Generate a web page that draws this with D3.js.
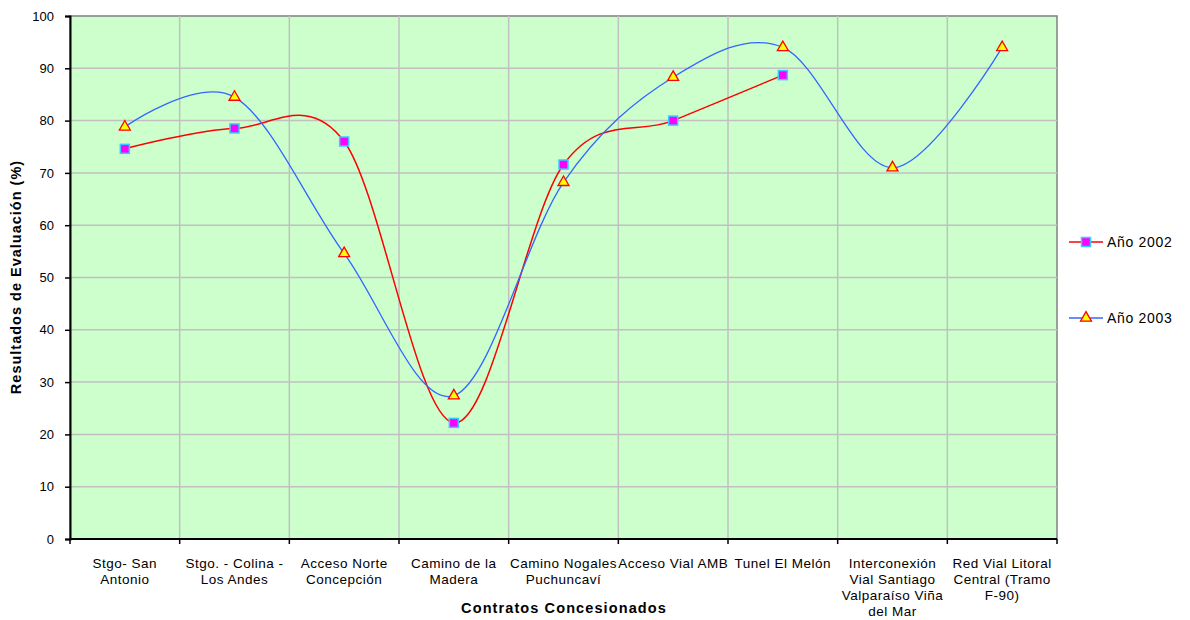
<!DOCTYPE html>
<html>
<head>
<meta charset="utf-8">
<script src="https://cdn.jsdelivr.net/npm/d3@7"></script>
<style>
  html, body { margin: 0; padding: 0; background: #fff; }
  svg { display: block; font-family: "Liberation Sans", Arial, sans-serif; }
</style>
</head>
<body>
<svg id="chart" width="1190" height="620"></svg>
<script>
// Contract names, one array of wrapped lines per category
const categories = [
  ["Stgo- San", "Antonio"],
  ["Stgo. - Colina -", "Los Andes"],
  ["Acceso Norte", "Concepción"],
  ["Camino de la", "Madera"],
  ["Camino Nogales", "Puchuncaví"],
  ["Acceso Vial AMB"],
  ["Tunel El Melón"],
  ["Interconexión", "Vial Santiago", "Valparaíso Viña", "del Mar"],
  ["Red Vial Litoral", "Central  (Tramo", "F-90)"]
];
const values2002 = [74.6, 78.5, 76.0, 22.2, 71.6, 80.0, 88.7, null, null];
const values2003 = [78.8, 84.5, 54.6, 27.4, 68.2, 88.3, 94.0, 71.0, 94.0];
const yTicks = [0, 10, 20, 30, 40, 50, 60, 70, 80, 90, 100];
const seriesNames = ["Año 2002", "Año 2003"];

const svg = d3.select("#chart");
const plotL = 70, plotR = 1057, plotT = 16, plotB = 539;

const x = d3.scaleBand().domain(d3.range(categories.length)).range([plotL, plotR]).paddingInner(0).paddingOuter(0);
const y = d3.scaleLinear().domain([0, 100]).range([plotB, plotT]);
const cx = i => x(i) + x.bandwidth() / 2;

// plot area
svg.append("rect").attr("x", plotL).attr("y", plotT).attr("width", plotR - plotL).attr("height", plotB - plotT)
  .attr("fill", "#ccffcc").attr("stroke", "#808080").attr("stroke-width", 1.5);

// horizontal grid
svg.append("g").selectAll("line").data(yTicks.filter(t => t > 0 && t < 100)).join("line")
  .attr("x1", plotL).attr("x2", plotR).attr("y1", d => y(d)).attr("y2", d => y(d))
  .attr("stroke", "#c0c0c0").attr("stroke-width", 1.5);
// vertical grid at category boundaries
svg.append("g").selectAll("line").data(d3.range(1, categories.length)).join("line")
  .attr("x1", d => x(d)).attr("x2", d => x(d)).attr("y1", plotT).attr("y2", plotB)
  .attr("stroke", "#c0c0c0").attr("stroke-width", 1.5);

// y axis
const yAxis = svg.append("g").attr("transform", `translate(${plotL},0)`)
  .call(d3.axisLeft(y).tickValues(yTicks).tickSize(5).tickPadding(11));
yAxis.select(".domain").attr("stroke", "#000").attr("stroke-width", 2);
yAxis.selectAll(".tick line").attr("stroke", "#000").attr("stroke-width", 1.5);
yAxis.selectAll(".tick text").attr("font-size", 13).attr("fill", "#000")
  .attr("font-family", "Liberation Sans, Arial, sans-serif");

// x axis: ticks at boundaries
const xAxisG = svg.append("g");
xAxisG.append("line").attr("x1", plotL).attr("x2", plotR).attr("y1", plotB).attr("y2", plotB)
  .attr("stroke", "#000").attr("stroke-width", 2);
xAxisG.selectAll("line.tk").data(d3.range(0, categories.length + 1)).join("line").attr("class", "tk")
  .attr("x1", d => d < categories.length ? x(d) : plotR).attr("x2", d => d < categories.length ? x(d) : plotR)
  .attr("y1", plotB).attr("y2", plotB + 5).attr("stroke", "#000").attr("stroke-width", 1.5);
const labels = xAxisG.selectAll("text.cat").data(categories).join("text").attr("class", "cat")
  .attr("text-anchor", "middle").attr("font-size", 13.5).attr("letter-spacing", 0.5).attr("fill", "#000");
labels.each(function(lines, i) {
  d3.select(this).selectAll("tspan").data(lines).join("tspan")
    .attr("x", cx(i)).attr("y", (d, j) => 568 + j * 16).text(d => d);
});

// axis titles
svg.append("text").attr("x", 564).attr("y", 613).attr("text-anchor", "middle")
  .attr("font-size", 14.5).attr("letter-spacing", 1.1).attr("font-weight", "bold").text("Contratos Concesionados");
svg.append("text").attr("transform", "translate(21,277) rotate(-90)").attr("text-anchor", "middle")
  .attr("font-size", 14.5).attr("letter-spacing", 1).attr("font-weight", "bold").text("Resultados de Evaluación (%)");

// smoothed lines
const lineGen = d3.line().defined(d => d != null).x((d, i) => cx(i)).y(d => y(d))
  .curve(d3.curveCardinal.tension(0));
svg.append("path").datum(values2002).attr("d", lineGen).attr("fill", "none")
  .attr("stroke", "#ff0000").attr("stroke-width", 1.5);
svg.append("path").datum(values2003).attr("d", lineGen).attr("fill", "none")
  .attr("stroke", "#3366ff").attr("stroke-width", 1.3);

// markers
const tri = d3.symbol().type(d3.symbolTriangle).size(52);
function square(g, px, py) {
  g.append("rect").attr("x", px - 4.5).attr("y", py - 4.5).attr("width", 9).attr("height", 9)
    .attr("fill", "#ff00ff").attr("stroke", "#33ccff").attr("stroke-width", 1.5);
}
function triangle(g, px, py) {
  g.append("path").attr("d", tri()).attr("transform", `translate(${px},${py})`)
    .attr("fill", "#ffff00").attr("stroke", "#ff0000").attr("stroke-width", 1.3);
}
const m2002 = svg.append("g");
values2002.forEach((v, i) => { if (v != null) square(m2002, cx(i), y(v)); });
const m2003 = svg.append("g");
values2003.forEach((v, i) => { if (v != null) triangle(m2003, cx(i), y(v)); });

// legend
const legend = svg.append("g");
[242, 318].forEach((ly, k) => {
  legend.append("line").attr("x1", 1069).attr("x2", 1103).attr("y1", ly).attr("y2", ly)
    .attr("stroke", k === 0 ? "#ff0000" : "#3366ff").attr("stroke-width", 1.5);
  if (k === 0) square(legend, 1086, ly); else triangle(legend, 1086, ly);
  legend.append("text").attr("x", 1107).attr("y", ly + 5).attr("font-size", 14)
    .attr("letter-spacing", 0.7).text(seriesNames[k]);
});
</script>
</body>
</html>
